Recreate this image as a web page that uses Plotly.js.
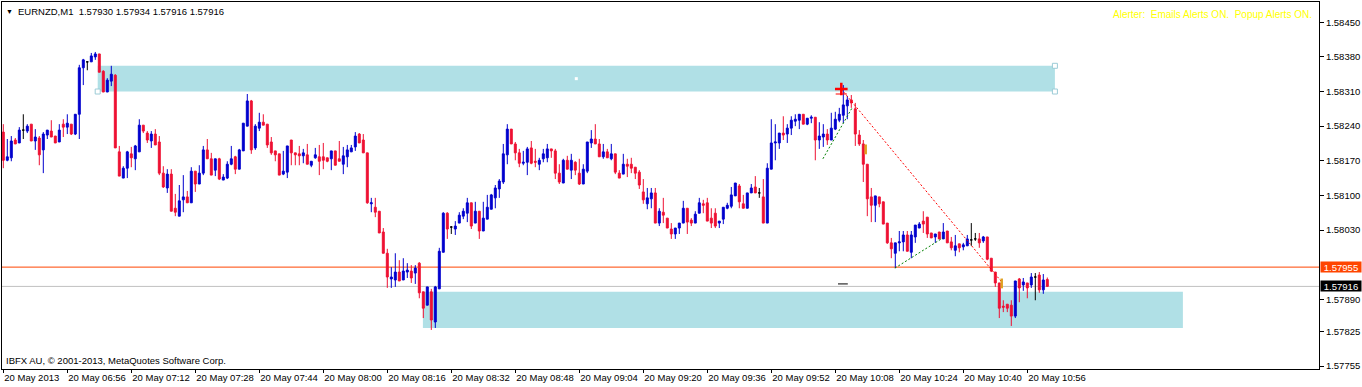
<!DOCTYPE html>
<html><head><meta charset="utf-8">
<script src="https://cdn.plot.ly/plotly-3.0.1.min.js"></script>
<style>html,body{margin:0;padding:0;background:#fff;overflow:hidden}#chart{width:1362px;height:387px}</style>
</head><body><div id="chart"></div>
<script>
const symbol = 'EURNZD,M1';
const open = [
1.58228,1.58171,1.58176,1.58212,1.58206,1.58232,1.58230,1.58244,1.58210,1.58216,
1.58192,1.58222,1.58230,1.58220,1.58208,1.58244,1.58238,1.58244,1.58224,1.58264,
1.58358,1.58370,1.58370,1.58380,1.58386,1.58351,1.58309,1.58331,1.58343,1.58188,
1.58135,1.58155,1.58184,1.58174,1.58188,1.58242,1.58226,1.58210,1.58224,1.58208,
1.58145,1.58115,1.58143,1.58074,1.58058,1.58091,1.58097,1.58085,1.58149,1.58123,
1.58145,1.58192,1.58174,1.58151,1.58174,1.58131,1.58135,1.58163,1.58178,1.58153,
1.58190,1.58240,1.58291,1.58196,1.58236,1.58248,1.58244,1.58208,1.58190,1.58184,
1.58143,1.58147,1.58212,1.58186,1.58184,1.58180,1.58182,1.58161,1.58176,1.58178,
1.58178,1.58176,1.58174,1.58190,1.58174,1.58163,1.58178,1.58188,1.58198,1.58224,
1.58212,1.58186,1.58083,1.58076,1.58068,1.58026,1.57983,1.57931,1.57929,1.57945,
1.57929,1.57945,1.57947,1.57943,1.57963,1.57905,1.57878,1.57905,1.57844,1.57911,
1.57985,1.58064,1.58036,1.58032,1.58044,1.58058,1.58064,1.58085,1.58044,1.58068,
1.58028,1.58052,1.58072,1.58095,1.58113,1.58127,1.58182,1.58234,1.58204,1.58186,
1.58165,1.58167,1.58196,1.58169,1.58163,1.58174,1.58176,1.58194,1.58190,1.58145,
1.58125,1.58171,1.58151,1.58167,1.58145,1.58123,1.58149,1.58206,1.58214,1.58204,
1.58178,1.58188,1.58174,1.58184,1.58145,1.58143,1.58163,1.58163,1.58157,1.58147,
1.58107,1.58083,1.58093,1.58105,1.58044,1.58066,1.58054,1.58032,1.58022,1.58034,
1.58044,1.58074,1.58050,1.58044,1.58064,1.58083,1.58085,1.58054,1.58064,1.58044,
1.58052,1.58074,1.58078,1.58099,1.58119,1.58083,1.58074,1.58105,1.58117,1.58105,
1.58097,1.58044,1.58153,1.58206,1.58206,1.58226,1.58224,1.58236,1.58250,1.58252,
1.58264,1.58244,1.58256,1.58258,1.58212,1.58218,1.58224,1.58212,1.58234,1.58252,
1.58262,1.58281,1.58293,1.58275,1.58222,1.58204,1.58163,1.58097,1.58080,1.58097,
1.58087,1.58044,1.58004,1.57983,1.58004,1.58006,1.58020,1.57985,1.58016,1.58034,
1.58048,1.58056,1.58024,1.58016,1.58026,1.58012,1.58028,1.58006,1.57989,1.58002,
1.57996,1.57998,1.58010,1.58012,1.58012,1.58008,1.58016,1.57973,1.57945,1.57923,
1.57876,1.57880,1.57878,1.57856,1.57931,1.57919,1.57923,1.57919,1.57935,1.57939,
1.57909,1.57930];
const high = [
1.58244,1.58214,1.58220,1.58216,1.58238,1.58264,1.58244,1.58244,1.58234,1.58220,
1.58228,1.58232,1.58252,1.58220,1.58244,1.58254,1.58264,1.58244,1.58264,1.58364,
1.58376,1.58370,1.58388,1.58390,1.58386,1.58353,1.58337,1.58362,1.58345,1.58200,
1.58159,1.58190,1.58198,1.58202,1.58254,1.58242,1.58230,1.58230,1.58234,1.58220,
1.58159,1.58153,1.58153,1.58103,1.58121,1.58141,1.58109,1.58157,1.58149,1.58161,
1.58200,1.58214,1.58186,1.58174,1.58176,1.58143,1.58169,1.58200,1.58180,1.58194,
1.58246,1.58305,1.58293,1.58244,1.58267,1.58264,1.58244,1.58218,1.58190,1.58184,
1.58190,1.58200,1.58212,1.58186,1.58200,1.58194,1.58204,1.58169,1.58196,1.58202,
1.58206,1.58176,1.58190,1.58190,1.58210,1.58198,1.58202,1.58202,1.58228,1.58226,
1.58224,1.58186,1.58095,1.58095,1.58068,1.58034,1.57992,1.57955,1.57983,1.57969,
1.57973,1.57963,1.57959,1.57959,1.57965,1.57905,1.57915,1.57911,1.57917,1.57994,
1.58066,1.58066,1.58038,1.58048,1.58066,1.58074,1.58095,1.58085,1.58087,1.58068,
1.58087,1.58101,1.58103,1.58121,1.58133,1.58204,1.58244,1.58234,1.58208,1.58194,
1.58190,1.58198,1.58210,1.58194,1.58176,1.58194,1.58204,1.58194,1.58194,1.58163,
1.58174,1.58180,1.58184,1.58169,1.58174,1.58163,1.58208,1.58232,1.58244,1.58214,
1.58204,1.58194,1.58204,1.58184,1.58151,1.58184,1.58174,1.58176,1.58157,1.58151,
1.58133,1.58115,1.58115,1.58115,1.58074,1.58095,1.58054,1.58044,1.58034,1.58044,
1.58089,1.58074,1.58054,1.58068,1.58095,1.58091,1.58095,1.58074,1.58074,1.58048,
1.58076,1.58085,1.58117,1.58125,1.58123,1.58101,1.58105,1.58123,1.58139,1.58115,
1.58133,1.58165,1.58254,1.58244,1.58226,1.58260,1.58244,1.58260,1.58264,1.58264,
1.58264,1.58256,1.58262,1.58258,1.58248,1.58244,1.58234,1.58267,1.58269,1.58277,
1.58323,1.58301,1.58303,1.58287,1.58232,1.58212,1.58163,1.58115,1.58099,1.58097,
1.58087,1.58044,1.58014,1.58004,1.58028,1.58028,1.58028,1.58028,1.58040,1.58046,
1.58068,1.58056,1.58024,1.58022,1.58026,1.58044,1.58028,1.58016,1.58020,1.58002,
1.58004,1.58020,1.58044,1.58024,1.58024,1.58018,1.58016,1.57973,1.57945,1.57923,
1.57888,1.57880,1.57888,1.57927,1.57933,1.57933,1.57923,1.57943,1.57943,1.57945,
1.57941,1.57934];
const low = [
1.58155,1.58169,1.58169,1.58204,1.58206,1.58214,1.58226,1.58210,1.58192,1.58161,
1.58145,1.58214,1.58218,1.58206,1.58208,1.58218,1.58224,1.58222,1.58222,1.58214,
1.58323,1.58353,1.58370,1.58374,1.58349,1.58309,1.58309,1.58321,1.58196,1.58139,
1.58135,1.58135,1.58157,1.58151,1.58188,1.58226,1.58206,1.58196,1.58202,1.58141,
1.58115,1.58105,1.58068,1.58058,1.58058,1.58066,1.58085,1.58085,1.58107,1.58123,
1.58141,1.58174,1.58141,1.58139,1.58131,1.58131,1.58133,1.58161,1.58143,1.58153,
1.58190,1.58240,1.58184,1.58192,1.58230,1.58242,1.58196,1.58182,1.58169,1.58141,
1.58141,1.58135,1.58161,1.58161,1.58161,1.58165,1.58163,1.58157,1.58174,1.58141,
1.58153,1.58167,1.58151,1.58161,1.58169,1.58143,1.58157,1.58188,1.58190,1.58206,
1.58186,1.58083,1.58066,1.58056,1.58024,1.57983,1.57913,1.57913,1.57915,1.57927,
1.57929,1.57933,1.57923,1.57921,1.57892,1.57852,1.57878,1.57828,1.57832,1.57911,
1.57985,1.58012,1.58022,1.58020,1.58044,1.58052,1.58046,1.58032,1.58044,1.58012,
1.58028,1.58052,1.58072,1.58074,1.58095,1.58123,1.58163,1.58204,1.58171,1.58157,
1.58161,1.58141,1.58163,1.58157,1.58151,1.58167,1.58167,1.58176,1.58133,1.58123,
1.58125,1.58153,1.58133,1.58141,1.58121,1.58123,1.58145,1.58196,1.58204,1.58178,
1.58174,1.58176,1.58171,1.58143,1.58135,1.58143,1.58137,1.58145,1.58133,1.58113,
1.58083,1.58072,1.58074,1.58044,1.58038,1.58044,1.58034,1.58012,1.58012,1.58022,
1.58044,1.58022,1.58038,1.58044,1.58064,1.58064,1.58048,1.58034,1.58034,1.58034,
1.58042,1.58072,1.58074,1.58099,1.58074,1.58074,1.58074,1.58105,1.58105,1.58095,
1.58044,1.58044,1.58153,1.58171,1.58194,1.58212,1.58206,1.58222,1.58240,1.58234,
1.58244,1.58242,1.58246,1.58171,1.58194,1.58198,1.58202,1.58212,1.58232,1.58248,
1.58246,1.58254,1.58277,1.58200,1.58200,1.58127,1.58058,1.58046,1.58046,1.58076,
1.58042,1.58002,1.57973,1.57953,1.57987,1.57987,1.57987,1.57973,1.58004,1.58034,
1.58024,1.58014,1.58014,1.58004,1.58012,1.58012,1.58004,1.57989,1.57977,1.57985,
1.57989,1.57998,1.57998,1.58008,1.57994,1.58004,1.57969,1.57945,1.57915,1.57852,
1.57864,1.57864,1.57836,1.57852,1.57884,1.57907,1.57892,1.57913,1.57888,1.57903,
1.57901,1.57916];
const close = [
1.58171,1.58178,1.58210,1.58204,1.58232,1.58232,1.58240,1.58210,1.58218,1.58182,
1.58224,1.58232,1.58218,1.58206,1.58232,1.58238,1.58246,1.58224,1.58264,1.58358,
1.58374,1.58370,1.58382,1.58386,1.58349,1.58309,1.58333,1.58345,1.58196,1.58139,
1.58155,1.58188,1.58176,1.58200,1.58242,1.58230,1.58212,1.58224,1.58202,1.58145,
1.58117,1.58143,1.58068,1.58066,1.58089,1.58097,1.58085,1.58149,1.58123,1.58145,
1.58192,1.58174,1.58141,1.58174,1.58133,1.58137,1.58163,1.58174,1.58153,1.58192,
1.58246,1.58291,1.58192,1.58240,1.58248,1.58242,1.58202,1.58186,1.58182,1.58141,
1.58149,1.58200,1.58186,1.58182,1.58180,1.58186,1.58163,1.58169,1.58182,1.58169,
1.58171,1.58169,1.58190,1.58161,1.58169,1.58180,1.58192,1.58196,1.58220,1.58206,
1.58186,1.58085,1.58085,1.58066,1.58024,1.57983,1.57935,1.57935,1.57945,1.57927,
1.57947,1.57949,1.57933,1.57953,1.57903,1.57872,1.57915,1.57848,1.57915,1.57987,
1.58064,1.58032,1.58036,1.58038,1.58060,1.58068,1.58085,1.58038,1.58068,1.58028,
1.58054,1.58076,1.58101,1.58115,1.58129,1.58184,1.58234,1.58204,1.58186,1.58165,
1.58167,1.58194,1.58165,1.58167,1.58171,1.58184,1.58194,1.58190,1.58145,1.58127,
1.58171,1.58153,1.58171,1.58151,1.58123,1.58153,1.58208,1.58214,1.58204,1.58178,
1.58188,1.58176,1.58184,1.58147,1.58135,1.58163,1.58159,1.58155,1.58145,1.58121,
1.58091,1.58095,1.58105,1.58044,1.58068,1.58060,1.58034,1.58022,1.58034,1.58044,
1.58074,1.58046,1.58044,1.58062,1.58085,1.58080,1.58048,1.58044,1.58038,1.58048,
1.58076,1.58080,1.58101,1.58125,1.58087,1.58074,1.58105,1.58115,1.58105,1.58105,
1.58044,1.58155,1.58206,1.58208,1.58226,1.58222,1.58236,1.58252,1.58254,1.58264,
1.58244,1.58256,1.58258,1.58212,1.58220,1.58224,1.58212,1.58236,1.58254,1.58264,
1.58283,1.58293,1.58287,1.58224,1.58204,1.58163,1.58093,1.58080,1.58099,1.58083,
1.58042,1.58004,1.57992,1.58004,1.58006,1.58020,1.57987,1.58020,1.58040,1.58042,
1.58042,1.58022,1.58014,1.58022,1.58012,1.58026,1.58004,1.57994,1.57998,1.57994,
1.58000,1.58012,1.58010,1.58012,1.58004,1.58016,1.57971,1.57947,1.57923,1.57872,
1.57874,1.57872,1.57856,1.57927,1.57913,1.57925,1.57913,1.57935,1.57935,1.57909,
1.57929,1.57916];

const timeLabels = ['20 May 2013','20 May 06:56','20 May 07:12','20 May 07:28','20 May 07:44','20 May 08:00',
  '20 May 08:16','20 May 08:32','20 May 08:48','20 May 09:04','20 May 09:20','20 May 09:36','20 May 09:52',
  '20 May 10:08','20 May 10:24','20 May 10:40','20 May 10:56'];
const labelEveryBars = 16;
const priceTicks = [1.58450,1.58380,1.58310,1.58240,1.58170,1.58100,1.58030,1.57890,1.57825,1.57755];
const alertLevel = 1.57955;
const bidPrice = 1.57916;
// supply/demand zones: bar span and price span
const zoneBars = [[23.6, 262.9], [104.9, 294.9]];
const zonePrices = [[1.58310, 1.58362], [1.57832, 1.57905]];
// drawn trend lines (bar, price)
const redLineBars = [209.5, 249.6], redLinePrices = [1.58315, 1.57925];
const greenBarsA = [204.9, 212.2], greenPricesA = [1.58174, 1.58277];
const greenBarsB = [222.9, 234.9], greenPricesB = [1.57953, 1.58014];
const goldBars = [215.6, 249.6], goldPrices = [1.58193, 1.57922];

const BLUE = '#0000CD', RED = '#EE1133';
const bars = open.map((_, i) => i);
const moving = bars.filter(i => open[i] !== close[i]);
const doji = bars.filter(i => open[i] === close[i]);
const pick = (a, idx) => idx.map(i => a[i]);
const candle = (idx, up, down) => ({
  type: 'candlestick', x: pick(bars, idx), open: pick(open, idx), high: pick(high, idx),
  low: pick(low, idx), close: pick(close, idx), whiskerwidth: 0, hoverinfo: 'skip', showlegend: false,
  increasing: {line: {color: up, width: 1}, fillcolor: up},
  decreasing: {line: {color: down, width: 1}, fillcolor: down}
});
const line = (x, y, color, dash) => ({type: 'scatter', mode: 'lines', x, y, hoverinfo: 'skip', showlegend: false,
  line: {color, width: 1, dash}});
const mark = (x, y, symbol, size, color, width, fill) => ({type: 'scatter', mode: 'markers', x, y, hoverinfo: 'skip', showlegend: false,
  marker: {symbol, size, color: fill || color, line: {color, width}}});

const zt = zoneBars[0], zp = zonePrices[0];
const traces = [
  candle(moving, BLUE, RED),
  candle(doji, '#000000', '#000000'),
  line(redLineBars, redLinePrices, '#FF0000', '2px,2px'),
  line(greenBarsA, greenPricesA, '#008000', '2px,2px'),
  line(greenBarsB, greenPricesB, '#008000', '2px,2px'),
  mark([redLineBars[0]], [redLinePrices[0]], 'cross-thin', 9, '#FF0000', 2.5),
  mark([redLineBars[0]], [redLinePrices[0] - 0.0001], 'line-ew', 8, '#FF0000', 1),
  mark(goldBars, goldPrices, 'line-ns', 7, '#E0A020', 2.5),
  mark([209.9], [1.57921], 'line-ew', 7, '#000000', 1),
  mark([zt[0], zt[1], zt[1]], [zp[0], zp[1], zp[0]], 'square', 5, '#9CCBD6', 1, '#FFFFFF'),
  mark([(zt[0] + zt[1]) / 2], [(zp[0] + zp[1]) / 2], 'square', 3, '#FFFFFF', 0, '#FFFFFF')
];

const shapes = zoneBars.map((b, k) => ({type: 'rect', xref: 'x', yref: 'y', x0: b[0], x1: b[1],
  y0: zonePrices[k][0], y1: zonePrices[k][1], fillcolor: '#B0E0E6', line: {width: 0}, layer: 'below'}));
shapes.push({type: 'line', xref: 'paper', yref: 'y', x0: 0, x1: 1, y0: alertLevel, y1: alertLevel, line: {color: '#FF4500', width: 1}, layer: 'below'});
shapes.push({type: 'line', xref: 'paper', yref: 'y', x0: 0, x1: 1, y0: bidPrice, y1: bidPrice, line: {color: '#C0C0C0', width: 1}, layer: 'below'});

const n = close.length - 1;
const FONT = 'Liberation Sans, Arial, sans-serif';
const header = symbol + '\u00a0\u00a0' + [open[n], high[n], low[n], close[n]].map(v => v.toFixed(5)).join(' ');
const annotations = [
  {xref: 'paper', yref: 'paper', x: 0, y: 1, xanchor: 'left', yanchor: 'top', xshift: 2, yshift: -4, text: '\u25BC', showarrow: false, font: {size: 7, color: '#000'}},
  {xref: 'paper', yref: 'paper', x: 0, y: 1, xanchor: 'left', yanchor: 'top', xshift: 14, yshift: -2, text: header, showarrow: false, font: {size: 9.5, color: '#000'}},
  {xref: 'paper', yref: 'paper', x: 1, y: 1, xanchor: 'right', yanchor: 'top', xshift: -5, yshift: -5, text: 'Alerter:\u00a0\u00a0Emails Alerts ON.\u00a0\u00a0Popup Alerts ON.', showarrow: false, font: {size: 10, color: '#FFFF00'}},
  {xref: 'paper', yref: 'paper', x: 0, y: 0, xanchor: 'left', yanchor: 'bottom', xshift: 2, yshift: 1, text: 'IBFX AU, \u00a9 2001-2013, MetaQuotes Software Corp.', showarrow: false, font: {size: 9.5, color: '#000'}},
  {xref: 'paper', yref: 'y', x: 1, y: alertLevel, xanchor: 'left', yanchor: 'middle', xshift: 1, text: alertLevel.toFixed(5), showarrow: false, bgcolor: '#FF4500', width: 40, height: 10, borderpad: 0, font: {size: 9.5, color: '#FFFFFF'}},
  {xref: 'paper', yref: 'y', x: 1, y: bidPrice, xanchor: 'left', yanchor: 'middle', xshift: 1, text: bidPrice.toFixed(5), showarrow: false, bgcolor: '#000000', width: 40, height: 10, borderpad: 0, font: {size: 9.5, color: '#FFFFFF'}}
];

const layout = {
  width: 1362, height: 387, margin: {l: 2, r: 43, t: 2, b: 18, pad: 0},
  paper_bgcolor: '#FFFFFF', plot_bgcolor: '#FFFFFF', showlegend: false,
  font: {family: FONT, size: 9.5, color: '#000'},
  xaxis: {range: [-0.325, 328.925], showgrid: false, zeroline: false, showline: true, linecolor: '#000', linewidth: 1, mirror: true,
    tickmode: 'array', tickvals: timeLabels.map((_, k) => k * labelEveryBars), ticktext: timeLabels,
    ticks: 'outside', ticklen: 3, tickcolor: '#000', ticklabelposition: 'outside right', tickangle: 0,
    rangeslider: {visible: false}, fixedrange: true},
  yaxis: {range: [1.57749, 1.58491], side: 'right', showgrid: false, zeroline: false, showline: true, linecolor: '#000', linewidth: 1, mirror: true,
    tickmode: 'array', tickvals: priceTicks, ticktext: priceTicks.map(v => v.toFixed(5)),
    ticks: 'outside', ticklen: 4, tickcolor: '#000', fixedrange: true},
  shapes, annotations
};
Plotly.newPlot('chart', traces, layout, {staticPlot: true, displayModeBar: false});
</script></body></html>
